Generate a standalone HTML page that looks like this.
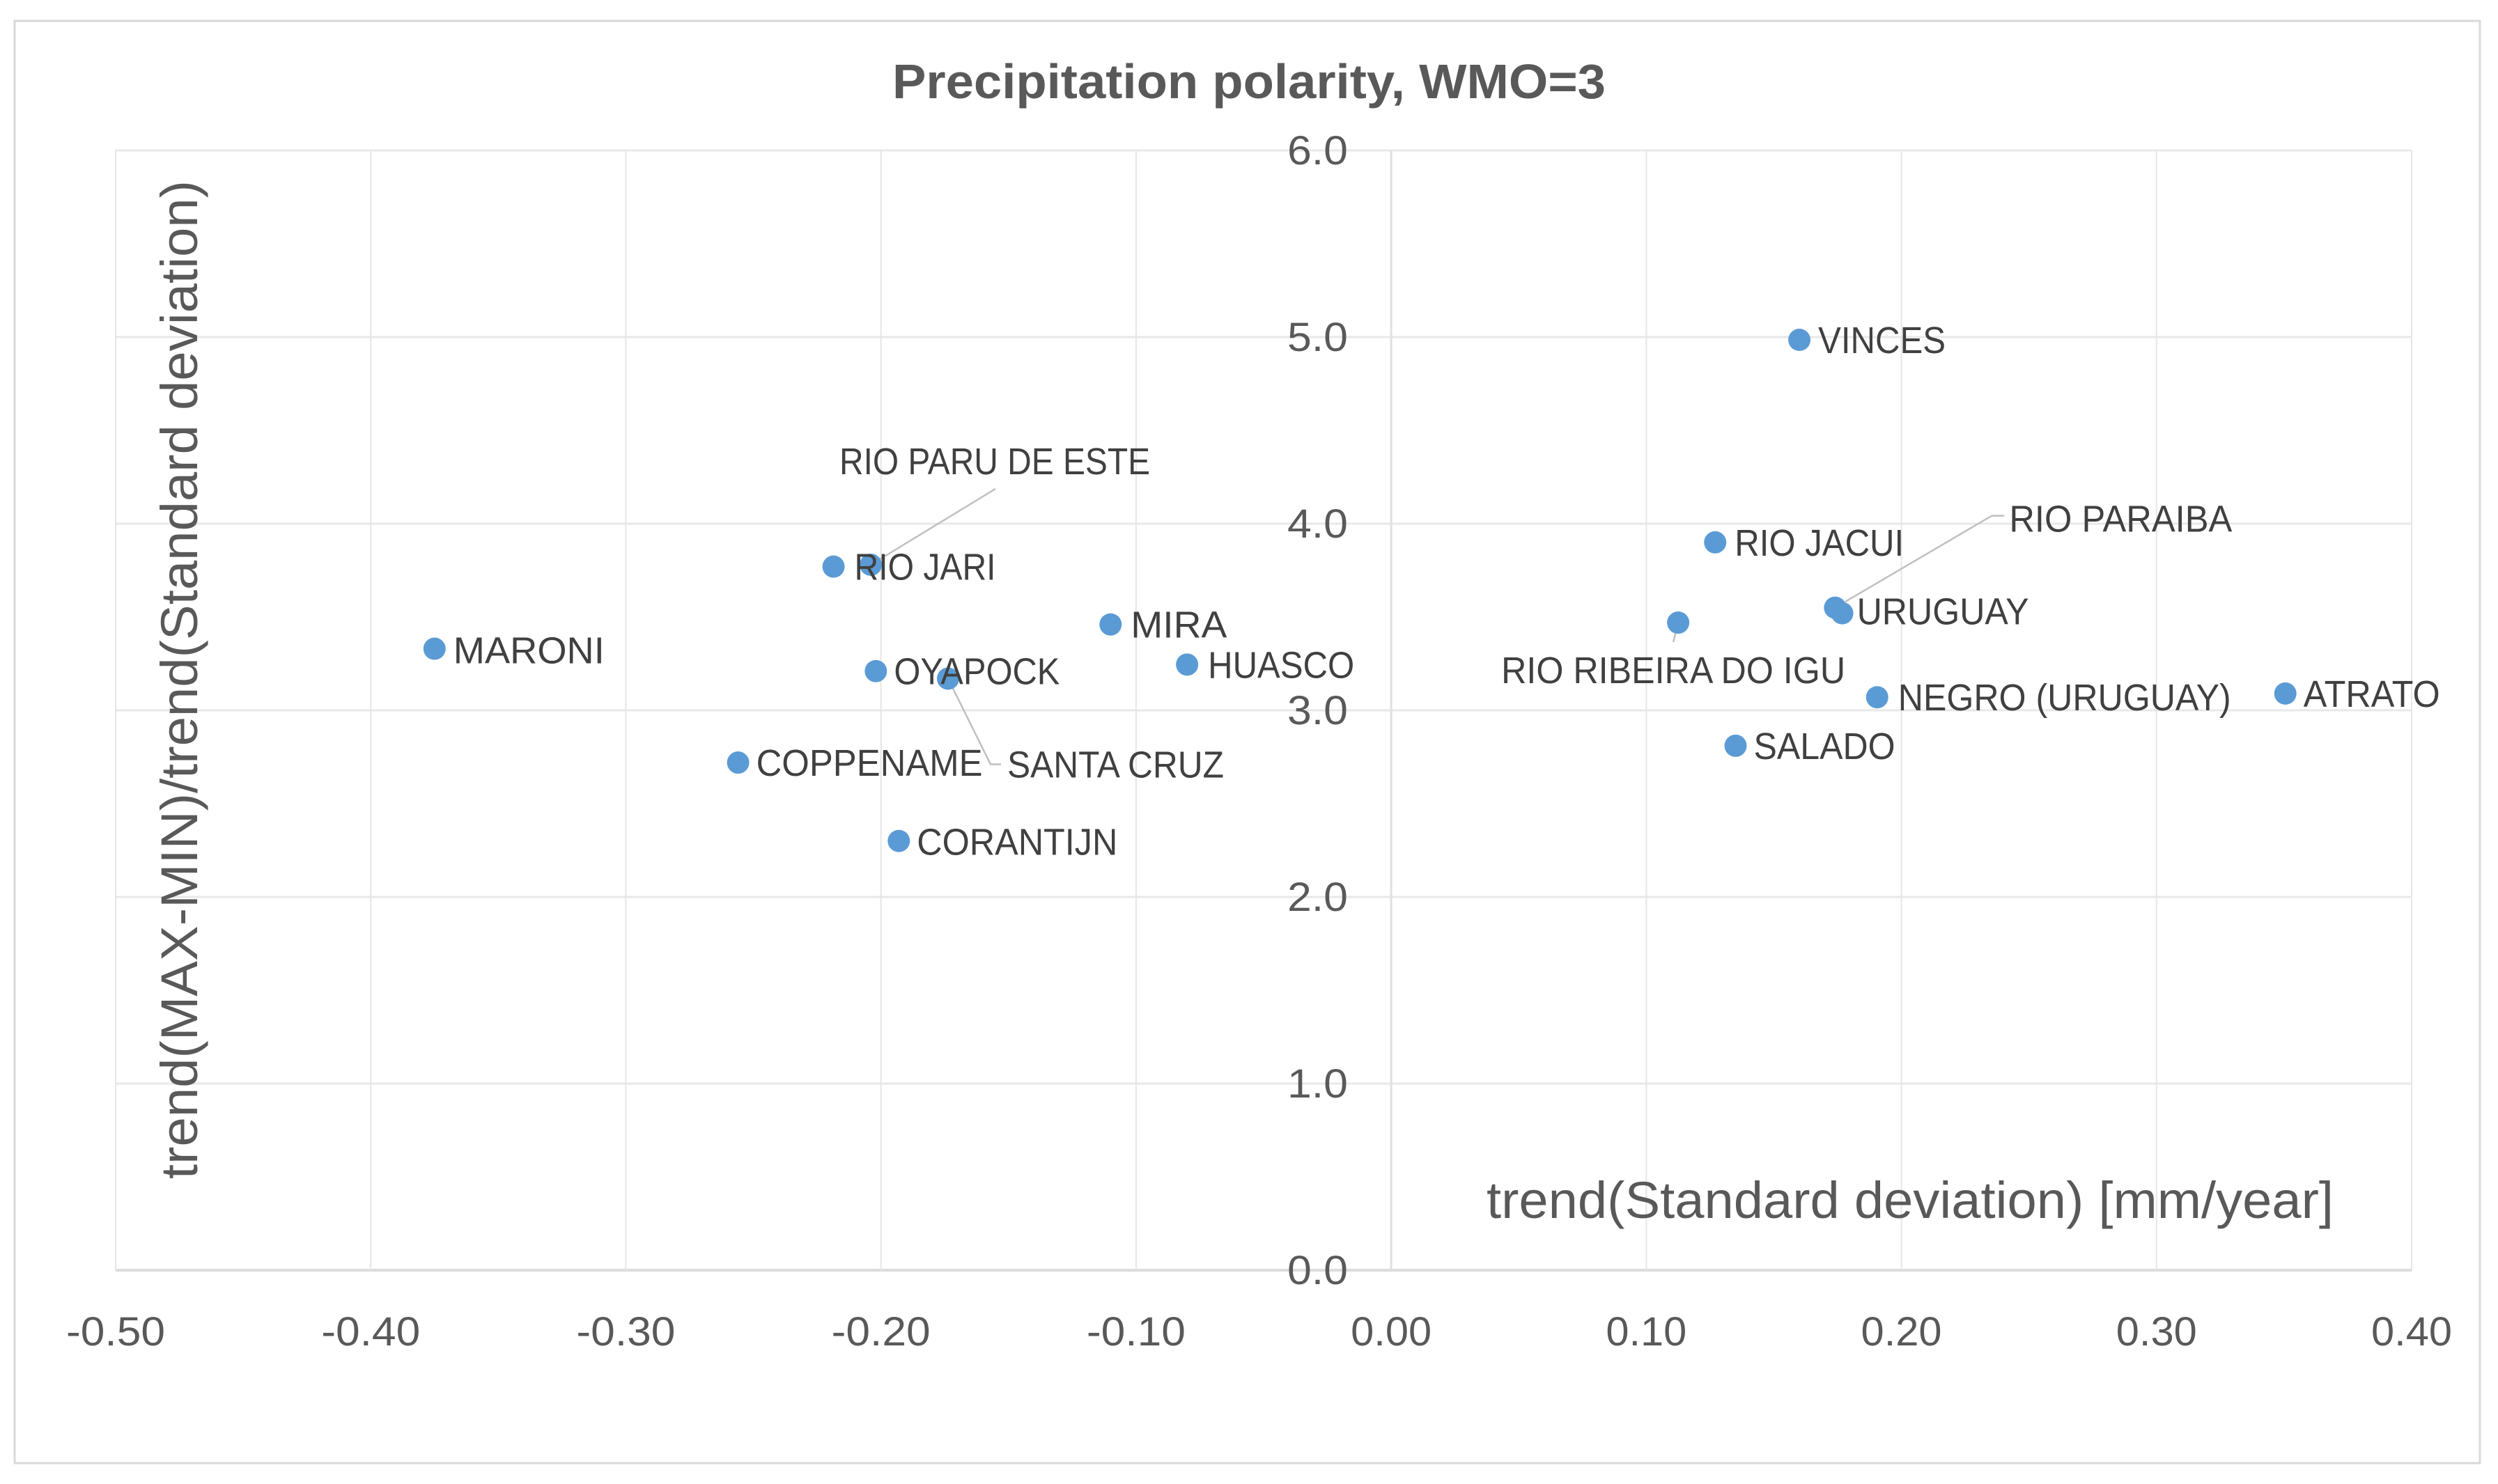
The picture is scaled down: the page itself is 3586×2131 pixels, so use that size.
<!DOCTYPE html>
<html lang="en">
<head>
<meta charset="utf-8">
<title>Precipitation polarity, WMO=3</title>
<style>
html,body{margin:0;padding:0;background:#fff;}
svg{display:block;}
text{font-family:"Liberation Sans",sans-serif;}
</style>
</head>
<body>
<svg id="chart" xmlns="http://www.w3.org/2000/svg" width="3586" height="2131" viewBox="0 0 3586 2131">
  <rect x="21" y="30" width="3539" height="2071" fill="#fff" stroke="#d9d9d9" stroke-width="3"/>
  <g id="grid"></g>
  <g id="xticks"></g>
  <g id="yticks"></g>
  <text x="1281" y="141" font-size="70" font-weight="bold" fill="#595959" textLength="1024" lengthAdjust="spacingAndGlyphs">Precipitation polarity, WMO=3</text>
  <text transform="translate(283,1693) rotate(-90)" font-size="74" fill="#595959" textLength="1434" lengthAdjust="spacingAndGlyphs">trend(MAX-MIN)/trend(Standard deviation)</text>
  <text x="2134" y="1749" font-size="74" fill="#595959" textLength="1216" lengthAdjust="spacingAndGlyphs">trend(Standard deviation) [mm/year]</text>
  <g id="leaders"></g>
  <g id="points"></g>
  <g id="labels"></g>
</svg>
<script>
const riverNames = ["MARONI","RIO JARI","RIO PARU DE ESTE","MIRA","HUASCO","OYAPOCK","SANTA CRUZ","COPPENAME","CORANTIJN","VINCES","RIO JACUI","RIO RIBEIRA DO IGU","URUGUAY","RIO PARAIBA","NEGRO (URUGUAY)","SALADO","ATRATO"];
const trendStdDev = [-0.375,-0.2186,-0.204,-0.110,-0.080,-0.202,-0.1737,-0.256,-0.193,0.160,0.127,0.1125,0.1768,0.174,0.1905,0.135,0.3505];
const polarity = [3.33,3.77,3.78,3.46,3.245,3.21,3.17,2.72,2.30,4.985,3.90,3.47,3.52,3.55,3.07,2.81,3.09];
const xTickValues = [-0.5,-0.4,-0.3,-0.2,-0.1,0,0.1,0.2,0.3,0.4];
const xTickLabels = ["-0.50","-0.40","-0.30","-0.20","-0.10","0.00","0.10","0.20","0.30","0.40"];
const yTickValues = [0,1,2,3,4,5,6];
const yTickLabels = ["0.0","1.0","2.0","3.0","4.0","5.0","6.0"];

/* layout of labels, relative to each point: [dx, dy, width] */
const labelLayout = {
  "MARONI":[27,5,217],"RIO JARI":[30,3,203],"RIO PARU DE ESTE":[-45,-146,446],"MIRA":[29,3,138],
  "HUASCO":[30,3,210],"OYAPOCK":[26,3,238],"SANTA CRUZ":[85,126,311],"COPPENAME":[26,3,325],
  "CORANTIJN":[26,4,288],"VINCES":[27,3,183],"RIO JACUI":[28,3,243],"RIO RIBEIRA DO IGU":[-254,71,494],
  "URUGUAY":[21,0,247],"RIO PARAIBA":[250,-125,320],"NEGRO (URUGUAY)":[30,3,478],"SALADO":[26,3,203],"ATRATO":[26,3,196]
};
/* leader-line bends, relative to each point */
const leaderLayout = {
  "RIO PARU DE ESTE":[[179,-109]],
  "SANTA CRUZ":[[61,123],[76,123]],
  "RIO RIBEIRA DO IGU":[[-7,28]],
  "RIO PARAIBA":[[225,-132],[243,-132]]
};

const NS = "http://www.w3.org/2000/svg";
const plot = {left:166,right:3462,top:216,bottom:1824};
const xDomain = [-0.5,0.4];
const yDomain = [0,6];
function xScale(v){ return plot.left + (v-xDomain[0])/(xDomain[1]-xDomain[0])*(plot.right-plot.left); }
function yScale(v){ return plot.bottom - (v-yDomain[0])/(yDomain[1]-yDomain[0])*(plot.bottom-plot.top); }
function make(tag, attrs){
  const el = document.createElementNS(NS, tag);
  for (const k in attrs) el.setAttribute(k, attrs[k]);
  return el;
}
const slug = s => s.toLowerCase().replace(/[^a-z0-9]+/g,'-').replace(/-+$/,'');

const grid = document.getElementById('grid');
yTickValues.forEach((v,i)=>{
  const ln = make('line',{x1:plot.left,x2:plot.right,y1:yScale(v),y2:yScale(v),stroke:v===0?'#dcdcdc':'#e8e8e8','stroke-width':v===0?4:3});
  
  
  grid.appendChild(ln);
});
xTickValues.forEach((v,i)=>{
  const ln = make('line',{x1:xScale(v),x2:xScale(v),y1:plot.top,y2:plot.bottom,stroke:v===0?'#e0e0e0':'#e6e6e6','stroke-width':v===0?3:2});
  
  
  grid.appendChild(ln);
});

const xt = document.getElementById('xticks');
xTickValues.forEach((v,i)=>{
  const s = xTickLabels[i];
  const t = make('text',{x:xScale(v),y:1932,'text-anchor':'middle','font-size':58,fill:'#595959',textLength:s[0]==='-'?142:116,lengthAdjust:'spacingAndGlyphs'});
  
  
  t.textContent = s;
  xt.appendChild(t);
});
const yt = document.getElementById('yticks');
yTickValues.forEach((v,i)=>{
  const t = make('text',{x:1935,y:yScale(v)+20,'text-anchor':'end','font-size':58,fill:'#595959',textLength:87,lengthAdjust:'spacingAndGlyphs'});
  
  
  t.textContent = yTickLabels[i];
  yt.appendChild(t);
});

const leaders = document.getElementById('leaders');
const points = document.getElementById('points');
const labels = document.getElementById('labels');
riverNames.forEach((name,i)=>{
  const px = xScale(trendStdDev[i]), py = yScale(polarity[i]);
  if (leaderLayout[name]) {
    const pts = [[px,py]].concat(leaderLayout[name].map(o=>[px+o[0],py+o[1]]));
    const pl = make('polyline',{points:pts.map(p=>p.join(',')).join(' '),fill:'none',stroke:'#bfbfbf','stroke-width':2.5});
    
    
    leaders.appendChild(pl);
  }
  const c = make('circle',{cx:px,cy:py,r:16,fill:'#5b9bd5'});
  
  
  points.appendChild(c);
  const lay = labelLayout[name];
  const t = make('text',{x:px+lay[0],y:py+lay[1]+16,'font-size':54,fill:'#404040',textLength:lay[2],lengthAdjust:'spacingAndGlyphs'});
  
  
  t.textContent = name;
  labels.appendChild(t);
});
</script>
</body>
</html>
